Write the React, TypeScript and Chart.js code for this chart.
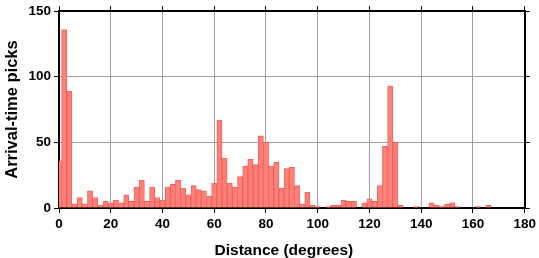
import React, { useEffect, useRef } from "react";
import { Chart, registerables } from "chart.js";

Chart.register(...registerables);

// Bin centres (degrees) of the 2-degree distance histogram
const binCenters = [
  0, 2, 4, 6, 8, 10, 12, 14, 16, 18,
  20, 22, 24, 26, 28, 30, 32, 34, 36, 38,
  40, 42, 44, 46, 48, 50, 52, 54, 56, 58,
  60, 62, 64, 66, 68, 70, 72, 74, 76, 78,
  80, 82, 84, 86, 88, 90, 92, 94, 96, 98,
  100, 102, 104, 106, 108, 110, 112, 114, 116, 118,
  120, 122, 124, 126, 128, 130, 132, 134, 136, 138,
  140, 142, 144, 146, 148, 150, 152, 154, 156, 158,
  160, 162, 164, 166, 168, 170, 172, 174, 176, 178, 180,
];

// Number of arrival-time picks in each bin
const picks = [
  36, 136, 89, 3, 8, 3, 13, 8, 2, 5,
  4, 6, 4, 10, 5, 16, 21, 5, 16, 8,
  6, 16, 18, 21, 15, 10, 17, 14, 13, 9,
  19, 67, 38, 19, 16, 24, 32, 37, 33, 55,
  50, 32, 35, 15, 30, 31, 17, 3, 12, 2,
  1, 0, 1, 2, 2, 6, 5, 5, 0, 4,
  7, 5, 17, 47, 93, 50, 2, 0, 0, 1,
  0, 0, 4, 2, 1, 3, 4, 1, 0, 0,
  0, 1, 0, 2, 0, 0, 0, 0, 0, 0, 0,
];

const xTitle = "Distance (degrees)";
const yTitle = "Arrival-time picks";

const FONT = "'Liberation Sans', Arial, Helvetica, sans-serif";

const xTitlePlugin = {
  id: "xTitleText",
  afterDraw(chart: any) {
    const { ctx, chartArea } = chart;
    ctx.save();
    ctx.font = `bold 15.5px ${FONT}`;
    ctx.fillStyle = "#000";
    ctx.textAlign = "center";
    ctx.textBaseline = "alphabetic";
    ctx.fillText(xTitle, (chartArea.left + chartArea.right) / 2 - 8, chartArea.bottom + 47);
    ctx.restore();
  },
};

export default function App() {
  const ref = useRef<HTMLCanvasElement | null>(null);

  useEffect(() => {
    if (!ref.current) return;
    const tickFont = { family: FONT, size: 13.5, weight: "bold" as const };
    const titleFont = { family: FONT, size: 16.5, weight: "bold" as const };
    const gridCommon = {
      color: "#a0a0a0",
      lineWidth: 1,
      tickColor: "#000",
      tickLength: 5,
      tickWidth: 1,
      offset: false,
    };
    const border = { display: true, color: "#000", width: 2 };

    const chart = new Chart(ref.current, {
      type: "bar",
      data: {
        datasets: [
          {
            data: binCenters.map((x, i) => ({ x, y: picks[i] })),
            backgroundColor: "#ff8078",
            borderColor: "#f0625c",
            borderWidth: 1,
            barPercentage: 1,
            categoryPercentage: 1,
            xAxisID: "x",
            yAxisID: "y",
          },
        ],
      },
      plugins: [xTitlePlugin],
      options: {
        animation: false,
        responsive: false,
        maintainAspectRatio: false,
        layout: { padding: 0 },
        plugins: {
          legend: { display: false },
          tooltip: { enabled: false },
        },
        scales: {
          x: {
            type: "linear",
            position: "bottom",
            min: 0,
            max: 180,
            offset: false,
            ticks: { stepSize: 20, font: tickFont, color: "#000", padding: 3 },
            grid: { ...gridCommon },
            border,
            afterFit: (s: any) => {
              s.height = 50;
            },
          },
          x2: {
            type: "linear",
            position: "top",
            min: 0,
            max: 180,
            offset: false,
            ticks: { stepSize: 20, display: false },
            grid: { ...gridCommon, drawOnChartArea: false },
            border,
            afterFit: (s: any) => {
              s.height = 6;
            },
          },
          y: {
            type: "linear",
            position: "left",
            min: 0,
            max: 150,
            ticks: { stepSize: 50, font: tickFont, color: "#000", padding: 3 },
            grid: { ...gridCommon },
            border,
            title: {
              display: true,
              text: yTitle,
              font: titleFont,
              color: "#000",
              padding: { top: 3, bottom: 0 },
            },
            afterFit: (s: any) => {
              s.width = 59;
            },
          },
          y2: {
            type: "linear",
            position: "right",
            min: 0,
            max: 150,
            ticks: { stepSize: 50, display: false },
            grid: { ...gridCommon, drawOnChartArea: false },
            border,
            afterFit: (s: any) => {
              s.width = 12;
            },
          },
        },
      },
    });
    return () => chart.destroy();
  }, []);

  return (
    <div style={{ position: "absolute", left: 0, top: 0, width: 539, height: 258, background: "#fff" }}>
      <canvas ref={ref} width={539} height={258} style={{ width: 539, height: 258, display: "block" }} />
    </div>
  );
}
